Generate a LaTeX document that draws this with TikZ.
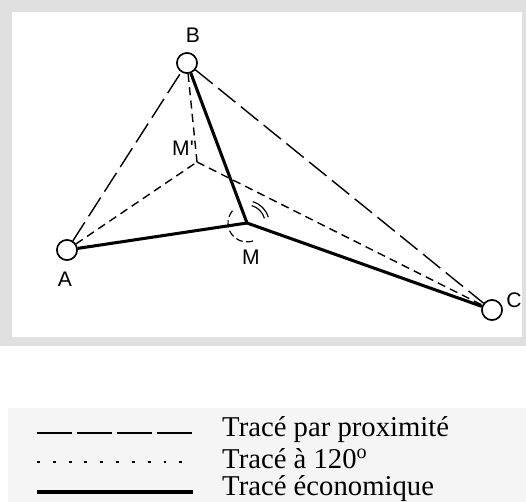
\documentclass[tikz,border=0pt]{standalone}
\usepackage{fontspec}
\setmainfont{Liberation Serif}
\newfontfamily\lettering{Liberation Sans}
\usetikzlibrary{positioning,calc}

\begin{document}
\begin{tikzpicture}[
  x=0.03cm, y=-0.03cm,
  town/.style={draw, circle, line width=1.3pt, fill=white, minimum size=0.6cm, inner sep=0pt},
  lbl/.style={font=\lettering\fontsize{18}{18}\selectfont, inner sep=1pt},
  prox/.style={line width=1.2pt, dash pattern=on 19pt off 6pt},
  deg/.style={line width=1.2pt, dash pattern=on 7pt off 4.5pt},
  eco/.style={line width=2.6pt},
  leg/.style={font=\fontsize{24.5}{27}\selectfont, anchor=west, inner sep=0pt}
]
\useasboundingbox (0,0) rectangle (526,502);
% frame of the plan
\fill[black!12] (0,0) rectangle (526,346);
\fill[white] (12,12) rectangle (522,337);
\fill[black!4] (8,408) rectangle (526,502);

% points
\coordinate (M) at (247,223);
\coordinate (Mp) at (197,162);
\node[town] (A) at (67,250) {};
\node[town] (B) at (187,63) {};
\node[town] (C) at (492,310) {};

% proximity
\draw[prox] (A) -- (B);
\draw[prox] (B) -- (C);
% 120 degrees
\draw[deg] (A) -- (Mp);
\draw[deg] (B) -- (Mp);
\draw[deg] (Mp) -- (C);
% economic
\draw[eco] (A) -- (M);
\draw[eco] (B) -- (M);
\draw[eco] (M) -- (C);

% angle marks (y axis points down, so angles are negated)
\draw[line width=1pt, dash pattern=on 6pt off 3pt] ($(M)+(-140:19)$) arc (-140:-295:19);
\draw[line width=1pt] ($(M)+(-15:18)$) arc (-15:-75:18);
\draw[line width=1pt] ($(M)+(-15:22)$) arc (-15:-75:22);

% circles on top
\node[town] at (A) {};
\node[town] at (B) {};
\node[town] at (C) {};

% labels
\node[lbl] (lB) at (193,35) {B};
\node[lbl] (lA) at (65,279) {A};
\node[lbl] (lC) at (514,300) {C};
\node[lbl] (lM) at (251,257) {M};
\node[lbl] (lMp) at (183,148) {M'};

% legend
\coordinate (p1) at (37,433);  \coordinate (q1) at (193,433);
\coordinate (p2) at (37,462);  \coordinate (q2) at (193,462);
\coordinate (p3) at (37,492);  \coordinate (q3) at (193,492);
\draw[line width=1.3pt, dash pattern=on 30pt off 4pt] (p1) -- (q1);
\draw[line width=1.2pt, dash pattern=on 2.5pt off 11pt] (p2) -- (q2);
\draw[line width=2.8pt] (p3) -- (q3);
\node[leg] (t1) at (222,430) {Tracé par proximité};
\node[leg] (t2) at (222,459) {Tracé à 120\textsuperscript{o}};
\node[leg] (t3) at (222,489) {Tracé économique};
\end{tikzpicture}
\end{document}
